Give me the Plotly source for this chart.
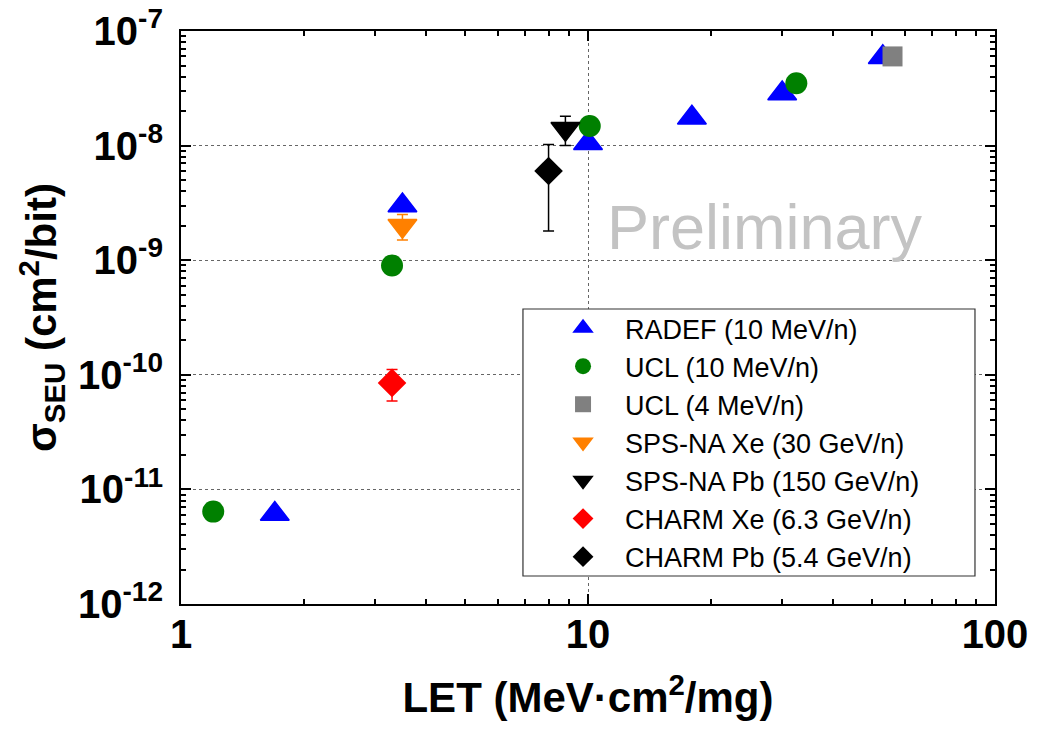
import plotly.graph_objects as go

# ---------------- data ----------------
radef_x = [1.7, 3.5, 10.0, 18.0, 30.0, 53.0]
radef_y = [6.1e-12, 3.0e-9, 1.05e-8, 1.75e-8, 2.85e-8, 5.9e-8]

ucl10_x = [1.2, 3.3, 10.1, 32.5]
ucl10_y = [6.4e-12, 9.0e-10, 1.48e-8, 3.5e-8]

ucl4_x = [56.0]
ucl4_y = [6.0e-8]

spsxe_x = [3.5]
spsxe_y = [2.0e-9]
spsxe_err = [0.5e-9]

spspb_x = [8.8]
spspb_y = [1.4e-8]
spspb_err = [0.4e-8]

charmxe_x = [3.3]
charmxe_y = [8.5e-11]
charmxe_err = [2.6e-11]

charmpb_x = [8.0]
charmpb_y = [6.0e-9]
charmpb_err = [4.2e-9]

y_tickvals = [1e-12, 1e-11, 1e-10, 1e-9, 1e-8, 1e-7]
y_ticktext = ["10<sup>-12</sup>", "10<sup>-11</sup>", "10<sup>-10</sup>",
              "10<sup>-9</sup>", "10<sup>-8</sup>", "10<sup>-7</sup>"]

FONT = "Liberation Sans, Arial, sans-serif"

fig = go.Figure()


def add(x, y, name, symbol, color, size, err=None):
    kw = {}
    if err is not None:
        kw["error_y"] = dict(type="data", array=err, visible=True,
                             color=color, thickness=1.5, width=5.5)
    fig.add_trace(go.Scatter(
        x=x, y=y, mode="markers", name=name,
        marker=dict(symbol=symbol, color=color, size=size,
                    line=dict(width=1.5 if "triangle" in symbol else 0, color=color)),
        **kw))


add(radef_x, radef_y, "RADEF (10 MeV/n)", "triangle-up", "#0000ff", 25)
add(ucl10_x, ucl10_y, "UCL (10 MeV/n)", "circle", "#008000", 22)
add(ucl4_x, ucl4_y, "UCL (4 MeV/n)", "square", "#808080", 20)
add(spsxe_x, spsxe_y, "SPS-NA Xe (30 GeV/n)", "triangle-down", "#ff8000", 25, spsxe_err)
add(spspb_x, spspb_y, "SPS-NA Pb (150 GeV/n)", "triangle-down", "#000000", 25, spspb_err)
add(charmxe_x, charmxe_y, "CHARM Xe (6.3 GeV/n)", "diamond", "#ff0000", 22, charmxe_err)
add(charmpb_x, charmpb_y, "CHARM Pb (5.4 GeV/n)", "diamond", "#000000", 22, charmpb_err)

axis_common = dict(
    showline=True, linewidth=2, linecolor="black", mirror="ticks",
    ticks="inside", ticklen=10, tickwidth=2, tickcolor="black",
    showgrid=True, gridcolor="#666666", gridwidth=1, griddash="dot",
    zeroline=False, automargin=False,
    tickfont=dict(family=FONT, size=40, color="black", weight="bold"),
    minor=dict(ticks="inside", ticklen=5, tickwidth=2, tickcolor="black",
               dtick="D1", showgrid=False),
)

fig.update_layout(
    width=1042, height=734,
    margin=dict(l=181, r=47, t=31, b=130, autoexpand=False),
    paper_bgcolor="white", plot_bgcolor="white",
    xaxis=dict(type="log", range=[0, 2], tickmode="linear", tick0=0, dtick=1,
               title=dict(text="LET (MeV·cm<sup>2</sup>/mg)", standoff=28,
                          font=dict(family=FONT, size=42, color="black", weight="bold")),
               ticklabelstandoff=-6,
               **axis_common),
    yaxis=dict(type="log", range=[-12, -7], tickmode="array",
               tickvals=y_tickvals, ticktext=y_ticktext,
               title=dict(text="σ<sub>SEU</sub> (cm<sup>2</sup>/bit)", standoff=8,
                          font=dict(family=FONT, size=42, color="black", weight="bold")),
               ticklabelstandoff=8,
               **axis_common),
    legend=dict(x=0.4423, y=0.5236, xanchor="left", yanchor="top",
                bgcolor="rgba(0,0,0,0)", borderwidth=0,
                font=dict(family=FONT, size=27, color="black"),
                itemwidth=74, tracegroupgap=0),
    showlegend=True,
)

# legend frame
fig.add_shape(type="rect", xref="paper", yref="paper",
              x0=0.4201, x1=0.9754, y0=0.0489, y1=0.5148,
              line=dict(color="#333333", width=1.2), fillcolor="white",
              layer="above")

fig.add_annotation(text="Preliminary", xref="paper", yref="paper",
                   x=0.7174, y=0.658, xanchor="center", yanchor="middle",
                   showarrow=False,
                   font=dict(family=FONT, size=63, color="#c3c3c3"))

fig.write_html("out.html")
